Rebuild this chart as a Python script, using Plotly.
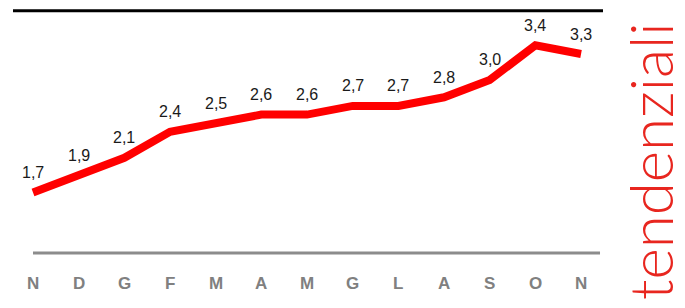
import plotly.graph_objects as go

months = ["N", "D", "G", "F", "M", "A", "M", "G", "L", "A", "S", "O", "N"]
values = [1.7, 1.9, 2.1, 2.4, 2.5, 2.6, 2.6, 2.7, 2.7, 2.8, 3.0, 3.4, 3.3]
value_labels = ["1,7", "1,9", "2,1", "2,4", "2,5", "2,6", "2,6", "2,7", "2,7", "2,8", "3,0", "3,4", "3,3"]
side_title = "tendenziali"

x = list(range(len(months)))

W, H = 677, 300  # page body has an 8px margin

fig = go.Figure()
fig.add_trace(go.Scatter(
    x=x, y=values, mode="lines",
    line=dict(color="#ff0000", width=8, shape="linear"),
    hoverinfo="skip", showlegend=False,
))

# value labels above points
for xi, v, t in zip(x, values, value_labels):
    fig.add_annotation(x=xi, y=v, text=t, showarrow=False, yshift=20,
                       font=dict(family="Liberation Sans", size=16, color="#1a1a1a"))

# month labels
for xi, m in zip(x, months):
    fig.add_annotation(x=xi, y=0.6416, text="<b>%s</b>" % m, showarrow=False,
                       font=dict(family="Liberation Sans", size=17, color="#808080"))

# baseline (gray) and top rule (black)
fig.add_shape(type="line", xref="x", yref="y", x0=0, x1=12.415, y0=1.0, y1=1.0,
              line=dict(color="#8c8c8c", width=3))
fig.add_shape(type="line", xref="paper", yref="paper", x0=5/W, x1=595/W,
              y0=1-2.8/H, y1=1-2.8/H, line=dict(color="#000000", width=3))

# vertical title
fig.add_annotation(xref="paper", yref="paper", x=642/W, y=1-153/H,
                   text=side_title, textangle=-90, showarrow=False,
                   xanchor="center", yanchor="middle",
                   font=dict(family="Lato", size=60, color="#e8261f", weight=300))

fig.update_layout(
    width=W, height=H,
    margin=dict(l=0, r=0, t=0, b=0),
    paper_bgcolor="white", plot_bgcolor="white",
    xaxis=dict(range=[-0.5474, 14.276], visible=False, fixedrange=True),
    yaxis=dict(range=[0.364, 3.832], visible=False, fixedrange=True),
)

fig.write_html("out.html")
